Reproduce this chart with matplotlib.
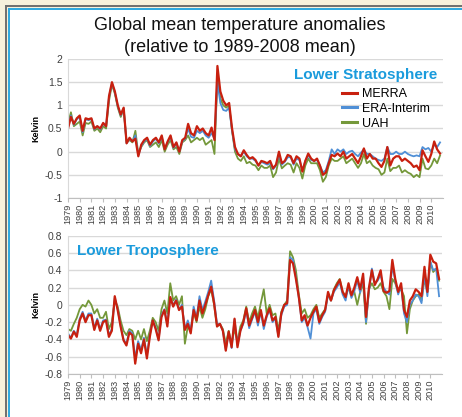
import matplotlib
matplotlib.use("Agg")
import matplotlib.pyplot as plt
import numpy as np
from matplotlib.lines import Line2D
from matplotlib.patches import Rectangle
from matplotlib.ticker import FuncFormatter

plt.rcParams["font.family"] = ["Liberation Sans", "DejaVu Sans"]

# quarterly estimates, 1979 Q1 .. 2010 Q4
years = list(range(1979, 2011))

ls_merra = [0.50, 0.75, 0.60, 0.72, 0.78, 0.45, 0.72, 0.70, 0.72, 0.50, 0.55, 0.50,
            0.62, 0.55, 1.20, 1.50, 1.30, 1.00, 0.80, 0.95, 0.18, 0.30, 0.22, 0.28,
            -0.10, 0.15, 0.25, 0.30, 0.15, 0.25, 0.30, 0.20, 0.35, 0.05, 0.22, 0.35,
            0.10, 0.20, 0.00, 0.25, 0.30, 0.60, 0.40, 0.35, 0.55, 0.45, 0.50, 0.40,
            0.35, 0.52, 0.25, 1.85, 1.30, 1.10, 1.00, 1.05, 0.50, 0.10, -0.05, -0.10,
            0.03, -0.07, -0.15, -0.12, -0.18, -0.30, -0.20, -0.22, -0.25, -0.20, -0.36, -0.28,
            0.00, -0.25, -0.20, -0.07, -0.10, -0.25, -0.10, -0.15, -0.43, -0.20, -0.04, -0.15,
            -0.20, -0.15, -0.30, -0.50, -0.45, -0.25, -0.07, -0.10, -0.04, -0.10, 0.00, -0.15,
            -0.10, -0.05, -0.15, -0.25, -0.10, 0.07, -0.15, -0.05, -0.15, -0.15, -0.25, -0.33,
            -0.20, 0.10, -0.30, -0.15, -0.10, -0.10, -0.20, -0.15, -0.20, -0.25, -0.33, -0.30,
            -0.40, 0.03, -0.10, -0.22, -0.05, 0.22, 0.05, -0.04]
ls_era = [0.52, 0.78, 0.58, 0.70, 0.75, 0.42, 0.70, 0.68, 0.70, 0.48, 0.55, 0.48,
          0.60, 0.55, 1.18, 1.48, 1.28, 0.98, 0.78, 0.93, 0.18, 0.28, 0.22, 0.35,
          -0.08, 0.12, 0.22, 0.28, 0.12, 0.22, 0.28, 0.18, 0.32, 0.05, 0.20, 0.32,
          0.08, 0.18, 0.00, 0.22, 0.28, 0.50, 0.32, 0.30, 0.45, 0.40, 0.45, 0.35,
          0.30, 0.40, 0.28, 1.50, 1.05, 0.90, 0.88, 0.95, 0.45, 0.05, -0.05, -0.10,
          0.00, -0.10, -0.15, -0.15, -0.20, -0.30, -0.22, -0.25, -0.28, -0.25, -0.38, -0.30,
          -0.05, -0.28, -0.22, -0.12, -0.12, -0.28, -0.15, -0.18, -0.40, -0.20, -0.08, -0.18,
          -0.20, -0.18, -0.30, -0.45, -0.40, -0.20, 0.05, -0.05, 0.05, 0.00, 0.05, -0.05,
          0.00, 0.02, -0.05, -0.10, -0.02, 0.05, -0.05, -0.05, -0.10, -0.15, -0.18, -0.20,
          -0.15, 0.10, -0.05, -0.05, 0.00, -0.05, -0.05, 0.00, -0.05, -0.08, -0.10, -0.08,
          -0.10, 0.10, 0.05, 0.08, 0.00, 0.15, 0.10, 0.20]
ls_uah = [0.60, 0.85, 0.55, 0.60, 0.65, 0.35, 0.62, 0.60, 0.65, 0.45, 0.50, 0.42,
          0.55, 0.50, 1.10, 1.45, 1.25, 0.95, 0.75, 0.92, 0.20, 0.25, 0.20, 0.45,
          -0.05, 0.10, 0.20, 0.25, 0.10, 0.15, 0.20, 0.10, 0.25, 0.00, 0.15, 0.25,
          0.05, 0.10, -0.05, 0.20, 0.25, 0.35, 0.20, 0.25, 0.30, 0.25, 0.30, 0.15,
          0.20, 0.25, -0.05, 1.60, 1.15, 1.00, 0.95, 1.00, 0.45, 0.00, -0.15, -0.20,
          -0.10, -0.25, -0.22, -0.28, -0.30, -0.40, -0.30, -0.35, -0.35, -0.30, -0.55, -0.45,
          -0.15, -0.36, -0.30, -0.25, -0.28, -0.45, -0.25, -0.35, -0.58, -0.30, -0.15, -0.25,
          -0.25, -0.25, -0.40, -0.65, -0.55, -0.30, -0.15, -0.20, -0.20, -0.15, -0.10, -0.25,
          -0.20, -0.15, -0.25, -0.35, -0.25, -0.05, -0.25, -0.20, -0.30, -0.35, -0.38, -0.50,
          -0.45, -0.15, -0.42, -0.35, -0.35, -0.30, -0.45, -0.40, -0.45, -0.48, -0.55, -0.50,
          -0.55, -0.15, -0.36, -0.38, -0.30, -0.15, -0.25, -0.08]

lt_merra = [-0.35, -0.39, -0.31, -0.37, -0.18, -0.10, -0.20, -0.12, -0.12, -0.29, -0.18, -0.30,
            -0.20, -0.18, -0.37, -0.30, 0.10, -0.06, -0.25, -0.41, -0.47, -0.32, -0.35, -0.68,
            -0.45, -0.56, -0.40, -0.62, -0.37, -0.18, -0.28, -0.41, -0.14, -0.06, -0.25, 0.09,
            -0.02, 0.05, -0.06, -0.02, -0.29, -0.22, -0.33, -0.06, -0.18, 0.05, -0.10, 0.00,
            0.11, 0.21, 0.02, -0.25, -0.22, -0.30, -0.53, -0.31, -0.49, -0.16, -0.49, -0.30,
            -0.20, -0.04, -0.24, -0.15, -0.06, -0.20, -0.06, -0.24, -0.12, -0.04, -0.18, -0.14,
            -0.37, -0.10, 0.00, 0.02, 0.52, 0.48, 0.30, 0.09, -0.18, -0.12, -0.24, -0.15,
            -0.08, -0.02, -0.20, -0.12, -0.06, 0.15, 0.05, 0.17, 0.23, 0.29, 0.15, 0.09,
            0.25, 0.11, 0.20, 0.32, 0.18, 0.36, -0.14, 0.20, 0.40, 0.23, 0.30, 0.40,
            0.16, 0.14, 0.16, 0.52, 0.30, 0.15, 0.25, -0.06, -0.14, 0.05, 0.10, 0.18,
            0.15, 0.10, 0.44, 0.15, 0.58, 0.50, 0.48, 0.30]
lt_era = [-0.33, -0.38, -0.30, -0.35, -0.16, -0.08, -0.18, -0.10, -0.10, -0.27, -0.16, -0.28,
          -0.18, -0.17, -0.35, -0.28, 0.08, -0.05, -0.24, -0.40, -0.45, -0.30, -0.33, -0.62,
          -0.42, -0.52, -0.38, -0.58, -0.35, -0.18, -0.26, -0.40, -0.12, -0.05, -0.22, 0.08,
          0.00, 0.06, -0.05, 0.00, -0.28, -0.18, -0.30, -0.02, -0.15, 0.10, -0.06, 0.04,
          0.15, 0.28, 0.05, -0.22, -0.22, -0.30, -0.52, -0.32, -0.50, -0.17, -0.47, -0.30,
          -0.22, -0.06, -0.27, -0.17, -0.08, -0.24, -0.08, -0.28, -0.14, -0.06, -0.20, -0.16,
          -0.36, -0.12, -0.02, 0.00, 0.55, 0.52, 0.32, 0.08, -0.20, -0.15, -0.26, -0.39,
          -0.10, -0.05, -0.22, -0.14, -0.08, 0.12, 0.05, 0.15, 0.20, 0.26, 0.12, 0.05,
          0.22, 0.08, 0.16, 0.28, 0.14, 0.33, -0.20, 0.16, 0.42, 0.25, 0.28, 0.35,
          0.20, 0.15, 0.12, 0.45, 0.28, 0.12, 0.22, -0.10, -0.20, 0.00, 0.05, 0.12,
          0.10, 0.02, 0.35, 0.10, 0.50, 0.40, 0.42, 0.10]
lt_uah = [-0.28, -0.30, -0.22, -0.15, -0.05, 0.00, -0.02, 0.05, 0.00, -0.10, -0.05, -0.15,
          -0.15, -0.08, -0.28, -0.20, 0.05, -0.02, -0.18, -0.30, -0.35, -0.28, -0.30, -0.40,
          -0.30, -0.40, -0.28, -0.42, -0.30, -0.15, -0.20, -0.30, -0.05, 0.05, -0.10, 0.25,
          0.05, 0.10, 0.00, 0.10, -0.45, -0.25, -0.30, -0.08, -0.20, -0.02, -0.15, -0.05,
          0.10, 0.18, 0.00, -0.25, -0.22, -0.28, -0.45, -0.30, -0.45, -0.28, -0.42, -0.25,
          -0.18, -0.02, -0.20, -0.10, -0.02, -0.15, 0.02, 0.18, -0.10, 0.00, -0.12, -0.10,
          -0.30, -0.08, 0.00, 0.05, 0.62, 0.55, 0.40, 0.12, -0.10, -0.05, -0.15, -0.12,
          -0.05, 0.00, -0.15, -0.10, -0.05, 0.12, 0.05, 0.18, 0.25, 0.30, 0.15, 0.10,
          0.20, 0.10, 0.15, 0.00, 0.15, 0.25, -0.22, 0.18, 0.25, 0.18, 0.20, 0.25,
          0.15, 0.10, -0.05, 0.30, 0.25, 0.15, 0.18, 0.10, -0.33, -0.05, 0.05, 0.10,
          0.12, 0.05, 0.30, 0.15, 0.50, 0.38, 0.42, 0.28]

RED = "#c8200f"
BLUE = "#4f8fd6"
GREEN = "#74983a"
TXT = "#404040"


def fmt(v, pos):
    v = round(v, 2)
    return "0" if v == 0 else "%g" % v


def style_axis(ax, ylim, yticks):
    t = years[0] + np.arange(len(ls_merra)) / 4
    ax.set_xlim(years[0], years[-1] + 1)
    ax.set_ylim(*ylim)
    ax.set_yticks(yticks)
    ax.yaxis.set_major_formatter(FuncFormatter(fmt))
    ax.set_xticks(years)
    ax.set_xticklabels([str(y) for y in years], rotation=90, fontsize=6.6, color=TXT)
    ax.tick_params(axis="y", length=0, labelsize=7.5, colors=TXT, pad=4)
    ax.tick_params(axis="x", length=3, color="#bfbfbf", pad=1)
    ax.grid(axis="y", color="#d9d9d9", linewidth=1)
    ax.set_axisbelow(True)
    for s in ["top", "right"]:
        ax.spines[s].set_visible(False)
    ax.spines["left"].set_color("#d9d9d9")
    ax.spines["bottom"].set_color("#bfbfbf")
    ax.set_ylabel("Kelvin", fontsize=6.5, fontweight="bold", labelpad=3)
    return t


fig = plt.figure(figsize=(4.62, 4.17), dpi=100)
fig.patch.set_facecolor("#f6f1dc")
W, H = 462, 417
fig.add_artist(Rectangle((9 / W, 0), 1, 1 - 9 / H, transform=fig.transFigure,
                         facecolor="white", edgecolor="none", zorder=0))
fig.add_artist(Line2D([6 / W, 6 / W], [0, 1 - 6 / H], color="#6e6e6e", lw=1.4))
fig.add_artist(Line2D([6 / W, 1], [1 - 6 / H, 1 - 6 / H], color="#6e6e6e", lw=1.4))
fig.add_artist(Line2D([9 / W, 9 / W], [0, 1 - 9 / H], color="#2aa7e0", lw=1.4))
fig.add_artist(Line2D([9 / W, 1], [1 - 9 / H, 1 - 9 / H], color="#2aa7e0", lw=1.4))

ax1 = fig.add_axes([68 / W, 1 - 198 / H, 375 / W, 139 / H])
ax1.patch.set_alpha(0)
t = style_axis(ax1, (-1, 2), np.arange(-1, 2.01, 0.5))
ax1.plot(t, ls_uah, color=GREEN, lw=1.3, label="UAH")
ax1.plot(t, ls_era, color=BLUE, lw=1.3, label="ERA-Interim")
ax1.plot(t, ls_merra, color=RED, lw=1.6, label="MERRA")
ax1.text(0.985, 0.885, "Lower Stratosphere", transform=ax1.transAxes, ha="right",
         va="center", fontsize=11, fontweight="bold", color="#1a9bdc")
h, l = ax1.get_legend_handles_labels()
leg = ax1.legend(h[::-1], l[::-1], loc="upper right", bbox_to_anchor=(0.985, 0.845),
                 frameon=False, fontsize=9, handlelength=1.2, handletextpad=0.4,
                 labelspacing=0.22, borderaxespad=0.2)
for ln in leg.get_lines():
    ln.set_linewidth(2.2)

ax2 = fig.add_axes([68 / W, 1 - 374 / H, 374 / W, 138.3 / H])
ax2.patch.set_alpha(0)
t = style_axis(ax2, (-0.8, 0.8), np.arange(-0.8, 0.81, 0.2))
ax2.plot(t, lt_uah, color=GREEN, lw=1.3)
ax2.plot(t, lt_era, color=BLUE, lw=1.3)
ax2.plot(t, lt_merra, color=RED, lw=1.6)
ax2.text(0.025, 0.89, "Lower Troposphere", transform=ax2.transAxes, ha="left",
         va="center", fontsize=11, fontweight="bold", color="#1a9bdc")

fig.text(0.52, 1 - 25 / H, "Global mean temperature anomalies", ha="center",
         va="center", fontsize=13, color="#111111")
fig.text(0.52, 1 - 48 / H, "(relative to 1989-2008 mean)", ha="center",
         va="center", fontsize=13, color="#111111")

fig.savefig("out.png", dpi=100, facecolor=fig.get_facecolor())
